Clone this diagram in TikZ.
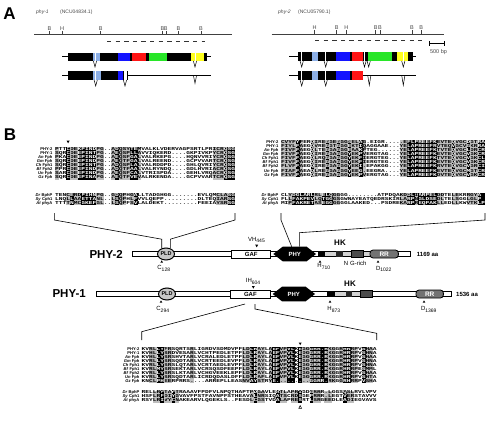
\documentclass[tikz,border=0pt]{standalone}
\usepackage{fontspec}
\setmainfont{Liberation Sans}
\newfontfamily\seqfont{Liberation Mono}
\usepackage{graphicx}
\usetikzlibrary{shapes.geometric,calc}
\definecolor{lblue}{RGB}{140,175,230}
\definecolor{exblue}{RGB}{20,20,255}
\definecolor{exred}{RGB}{255,20,20}
\definecolor{exgreen}{RGB}{40,230,40}
\definecolor{exyellow}{RGB}{255,255,30}
\definecolor{shgray}{RGB}{190,190,190}
\definecolor{txtgray}{RGB}{70,70,70}
\newcommand\setcw[1]{\gdef\cw{#1}\pgfmathsetmacro\tmpcw{#1/2.7}\global\let\cwscale\tmpcw}
\newcommand\seqtxt[1]{\scalebox{\cwscale}[1]{\seqfont\bfseries\fontsize{4.5}{4.5}\selectfont #1}}
\makeatletter
\newcommand\alnrows[6]{\def\rowi{0}\@for\s:=#5\do{\pgfmathtruncatemacro\rowi{\rowi+1}\node[seqn,text=#6] (#1\rowi) at (#2,{#3+(\rowi-1)*#4}) {\seqtxt{\s}};}}
\makeatother
\newcommand\alnlabels[5]{\foreach \l [count=\i] in {#5}{\node[alab] (#1\i) at (#2,{#3+(\i-1)*#4}) {\l};}}
\newcommand\colshade[5]{\foreach \a/\b in {#5}{\fill[#1] ({#2+\a*\cw},#3) rectangle ({#2+\b*\cw+\cw},#4);}}
\newcommand\tridown[2]{\fill ({#1-1.5},{#2-1.3}) -- ({#1+1.5},{#2-1.3}) -- (#1,{#2+1.3}) -- cycle;}
\newcommand\triup[2]{\fill ({#1-1.3},{#2+1.1}) -- ({#1+1.3},{#2+1.1}) -- (#1,{#2-1.1}) -- cycle;}
\newcommand\intronV[3]{\draw[line width=0.5pt] ({#1-1.6},#2) -- (#1,{#2+#3}) -- ({#1+1.6},#2);}
\def\TLup{PTTCDEKPINDPG..ADQSYTEMVALKLVDERVAGPSRTLPRICRQSG,SQRCDEEPINTPG..AEQSPLLAVVIQKERD....GKPIVKPYCRQSG,PKACDEEPINDPG..AEQSFGALVALRKEPG....HQNVVRIYCRQSG,SQRCDEEPINDPG..AEQTFGALVALREEND....GCPVVARTCRQSG,SQRCDEEPINTPG..ADQSPLALVALRDDPD....GHLQVRIYCRQSG,PPRCDEEPINDPG..ADQTFAALVALRYNDQ....GDLHVRIACRQSG,SARCDEEPINDPG..AEQSFCALVTRISPDA....GEHLVRQACRQSG,SQRCDEEPINAPG..AEQTFVEVALRKENDA....GCPVVARTCRQSG}
\def\TLlo{TENCERDPIHNPG..GDQPHGALLTADGHGG.......EVLQMCLASG,LNQLLAAETTANL..LSQPHLFVVLQEPP.........DLTEQIARSG,TTTTNMCGKEFGL..LSQPFSVLALDEKT.........FEEIAYSRSG}
\def\TRup{CVYFYFERQIREGGEGGGSELAG.EIGR.....EFLPREEFKEVTEQVGCDGTRA,FIYLFAEGQVREGGTGGGEKTIQAGGAAE...YELAPREEFRVTEQVGCVGKRRA,FIVFFAEGQLTEGGAGGGEAAKPTEG......YELAPREEFKTVTEQVGCLDRCR,FIVFFAEGQIREGGAGGGYEKPVERGTAG...YELAPREEFKEVTEQVGCVGKCR,FIVFFAEGQLRQGGAGGGYEKFIERGTEG...YELAPREEFKTVTEQVGCVGKCL,FIVFFAEGQIREGGAGGGYEKFIERGTEG...YELAPREEFKEVTEQVGCVGKCR,FLVFFAEGQIREGGAGGGYEKI.EPAKGG...YELAPREEFKRVTEQVGCVGRCI,FIAFFAEAQLREGGAGGGYEEG.EEGRA....YELAPREEFKEVTEQVGCMGTCR,FIVFFAEGQIREGGAGGGYEKPVERGTAG...YELAPREEFKDVTEQVGCVGKCR}
\def\TRlo{CLYDGLARLRLELQGGGG........ATPDQAKDDLIARPELDDTELEKRRGYA,FLLFAKPEVLQTGGGSGWNAYEATQEDRSKIRLARPNGLDSEDLTELSGGLGLP,MIPFAKRETASEGGGGGGLAAKED...PSDREKARPREQPAKLLEDLLKWVTKLP}
\def\BUp{KVRLLYFRSQRTSRLIGRDVSDMDVPFLDLRAYLAEFVPVLKEGGGRR.RKGGRHRRPVSHAA,KVHLLYSRDVESARLVCHTPEDLETPFLDLRAYLAEFVPVLKEDGGRR.RKGGRHRRPVSHNA,KVHLLYSRSHVTARLVCRALEDLETPFLDLRAYLAEFVPVLKEGGGRR.RKGGRHRRPVSHAA,KVRLLYSRSQDTARLVCRTEEDLEVPFLDLRAYLAEFVPVLKEGGGRR.RKGGRHRRPVSHNA,KVRLLYSRSLQTARLVCRTAEDLEVPFLDLRAYLAEFVPVLKEGGGRR.RKGGRHRRPVSHNA,KVRLMYSRSEKTARLVCRSQSDFEEPFLDLRAYLAEFVPVLKEGGGRR.RKGGRHRRPESMML,KVRLLYSRSLKTARLVCHGVEEKLEPFLDLRAYLAEFVPVLKEGGGRR.RKGGRHRRPVSHAA,KVRLLYSRSQDTARLICRDQDASLDFFLDLRAFLAEFVPVLKEGGGRR.RKGGRHRRPVSHTA,KNCLPHEERPRRS....ARREPLLEASNVAYSTRYE.........GGRR.RKGGRHRRPVSHA}
\def\BLo{RELLRPTAFTRAAAVFPDFVLNPQTHAPTPDGAVLEATLAPRIGDGRRR.LGGSQSLRVLVPV,HSFLRFDIYGVAVFPSTFAVNPFSTHEAVALNRSIQATSCRDSGEPRRR.LEGTVERSTAVVV,RSYLRIVYCNAKEARVLQGEKLS..FESDLCGSTVDALAPRESRTLSRGEEDLEADIEGVAVS}
\begin{document}
\begin{tikzpicture}[x=1pt,y=-1pt,
  seqn/.style={anchor=west,inner sep=0pt,outer sep=0pt},
  alab/.style={anchor=east,inner sep=0pt,font=\bfseries\fontsize{4.1}{4.1}\selectfont},
  maplab/.style={anchor=south,inner sep=0.3pt,text=txtgray,font=\fontsize{5.5}{5.5}\selectfont},
  mapline/.style={line width=0.9pt,draw=black!75},
  tick/.style={line width=0.5pt,draw=black!75},
  dashline/.style={line width=0.9pt,draw=black!80,dash pattern=on 4.3pt off 4.3pt},
  domlab/.style={font=\bfseries\fontsize{11.5}{11.5}\selectfont,anchor=east,inner sep=0pt},
  small/.style={font=\fontsize{6}{6}\selectfont,inner sep=0pt},
  bar/.style={draw,line width=0.8pt,fill=white},
  link/.style={line width=0.6pt}]
\useasboundingbox (0,0) rectangle (486,430);

% ---------------- Part A ----------------
\node[font=\bfseries\fontsize{17}{17}\selectfont,inner sep=0] (lblA) at (9.5,14) {A};
\node[font=\itshape\fontsize{5}{5}\selectfont,anchor=west,inner sep=0,text=txtgray] (n1) at (36,12) {phy-1};
\node[font=\fontsize{5}{5}\selectfont,anchor=west,inner sep=0,text=txtgray] (n1acc) at (60,12) {(NCU04834.1)};
\node[font=\itshape\fontsize{5}{5}\selectfont,anchor=west,inner sep=0,text=txtgray] (n2) at (278,12) {phy-2};
\node[font=\fontsize{5}{5}\selectfont,anchor=west,inner sep=0,text=txtgray] (n2acc) at (298,12) {(NCU05790.1)};

\draw[mapline] (34,34.5) -- (232,34.5);
\foreach \x/\t in {49.5/B,62/H,100.7/B,162.5/B,165.8/B,178.5/B,201/B}{
  \draw[tick] (\x,31) -- (\x,34.5);
  \node[maplab] at (\x,31) {\t};}
\draw[dashline] (107,41) -- (205,41);

\draw[mapline] (271.7,34) -- (444,34);
\foreach \x/\t in {314.7/H,336.7/B,346.3/H,375.7/B,379.9/B,412/B,421.3/B}{
  \draw[tick] (\x,30.5) -- (\x,34);
  \node[maplab] at (\x,30.5) {\t};}
\draw[dashline] (315,40) -- (422,40);
\draw[line width=0.8pt] (429.3,43.3) -- (444.3,43.3);
\draw[line width=0.6pt] (429.3,40.8) -- (429.3,45.8) (444.3,40.8) -- (444.3,45.8);
\node[font=\fontsize{5.5}{5.5}\selectfont,text=txtgray,inner sep=0] (bp) at (438.5,52.5) {500 bp};

% phy-1 gene model
\draw[line width=0.8pt] (62,56.8) -- (210.7,56.8);
\fill[black] (68,52.7) rectangle (207.3,61);
\fill[lblue] (92.7,52.7) rectangle (100,61);
\fill[exblue] (118.3,52.7) rectangle (130,61);
\fill[exred] (132,52.7) rectangle (145.7,61);
\fill[exgreen] (149,52.7) rectangle (166.7,61);
\fill[exyellow] (190.7,52.7) rectangle (204,61);
\draw[white,line width=0.5pt] (95,52.7) -- (95,61) (195,52.7) -- (195,61);
\intronV{95}{61}{6}
\intronV{195}{61}{6}
\draw[line width=0.8pt] (62,75.3) -- (68,75.3);
\draw[line width=0.6pt] (128.3,75.3) -- (210.7,75.3);
\fill[black] (68,70.7) rectangle (128.3,80);
\fill[lblue] (93,70.7) rectangle (101,80);
\fill[exblue] (118,70.7) rectangle (123,80);
\fill[white] (123.6,70.7) rectangle (126.6,80);
\draw[white,line width=0.5pt] (95.7,70.7) -- (95.7,80);
\intronV{95.7}{80}{6}
\intronV{125}{80}{6}
\intronV{195}{75.3}{8}

% phy-2 gene model
\draw[line width=0.8pt] (289.3,56.7) -- (416,56.7);
\fill[black] (298.3,52.3) rectangle (413.3,61);
\fill[lblue] (311.7,52.3) rectangle (317.7,61);
\fill[exblue] (336,52.3) rectangle (350,61);
\fill[exred] (352,52.3) rectangle (363.3,61);
\fill[exgreen] (367.7,52.3) rectangle (391.7,61);
\fill[exyellow] (397.3,52.3) rectangle (408.3,61);
\draw[white,line width=0.5pt] (301.7,52.3) -- (301.7,61) (325.7,52.3) -- (325.7,61) (364.5,52.3) -- (364.5,61) (403.3,52.3) -- (403.3,61);
\intronV{301.7}{61}{6}
\intronV{325.7}{61}{6}
\intronV{364.5}{61}{6}
\intronV{368.7}{61}{6}
\intronV{403.3}{61}{6}
\draw[line width=0.8pt] (289.3,75.3) -- (298.3,75.3);
\draw[line width=0.6pt] (363.3,75.3) -- (416,75.3);
\fill[black] (298.3,70.7) rectangle (363.3,80);
\fill[lblue] (311.7,70.7) rectangle (317.7,80);
\fill[exblue] (336,70.7) rectangle (350,80);
\fill[exred] (352,70.7) rectangle (363.3,80);
\draw[white,line width=0.5pt] (301.7,70.7) -- (301.7,80) (325.7,70.7) -- (325.7,80);
\intronV{301.7}{80}{6}
\intronV{325.7}{80}{6}
\intronV{369.3}{75.3}{10}
\intronV{403.3}{75.3}{10}

% ---------------- Part B ----------------
\node[font=\bfseries\fontsize{17}{17}\selectfont,inner sep=0] (lblB) at (10,135) {B};

% ---- top-left alignment ----
\setcw{3.75}
\colshade{shgray}{55}{146.95}{179.75}{0/0,4/5,11/12,15/15,17/19,22/22,42/44}
\colshade{black}{55}{146.95}{179.75}{3/3,6/10,16/16,20/21,45/47}
\colshade{shgray}{55}{193}{205}{3/3,5/6,11/12,15/15,17/18,20/20,43/45}
\colshade{black}{55}{193}{205}{4/4,7/10,16/16,21/21,46/47}
\alnlabels{tlL}{52.5}{149}{4.1}{PHY-2,PHY-1,\textit{An} Fph,\textit{Gm} Fph,\textit{Ch} Fph1,\textit{Bf} Fph2,\textit{Un} Fph,\textit{Gz} Fph}
\alnlabels{tlLo}{52.5}{195}{4}{\textit{Dr} BphP,\textit{Sy} Cph1,\textit{At} phyA}
\alnrows{tls}{55}{149}{4.1}{\TLup}{black}
\alnrows{tlt}{55}{195}{4}{\TLlo}{black}
\begin{scope}
\clip \foreach \a/\b in {3/3,6/10,16/16,20/21,45/47}{({55+\a*\cw},146.95) rectangle ({55+\b*\cw+\cw},179.75)}
      \foreach \a/\b in {4/4,7/10,16/16,21/21,46/47}{({55+\a*\cw},193) rectangle ({55+\b*\cw+\cw},205)};
\alnrows{tlsw}{55}{149}{4.1}{\TLup}{white}
\alnrows{tltw}{55}{195}{4}{\TLlo}{white}
\end{scope}
\tridown{68.1}{142}

% ---- top-right alignment ----
\setcw{3.71}
\colshade{shgray}{281}{140.25}{177.15}{0/3,5/5,9/9,11/11,13/14,16/17,19/20,22/22,32/33,42/45,47/49,51/52}
\colshade{black}{281}{140.25}{177.15}{4/4,8/8,12/12,15/15,18/18,21/21,34/41,46/46,50/50,53/54}
\colshade{shgray}{281}{193}{205}{2/2,9/10,14/15,32/33,36/36,42/43,46/47,50/52}
\colshade{black}{281}{193}{205}{3/8,11/13,34/35,37/41,53/54}
\alnlabels{trL}{278.5}{142.3}{4.1}{PHY-2,PHY-1,\textit{An} Fph,\textit{Gm} Fph,\textit{Ch} Fph1,\textit{Bf} Fph1,\textit{Bf} Fph2,\textit{Un} Fph,\textit{Gz} Fph}
\alnlabels{trLo}{278.5}{195}{4}{\textit{Dr} BphP,\textit{Sy} Cph1,\textit{At} phyA}
\alnrows{trs}{281}{142.3}{4.1}{\TRup}{black}
\alnrows{trt}{281}{195}{4}{\TRlo}{black}
\begin{scope}
\clip \foreach \a/\b in {4/4,8/8,12/12,15/15,18/18,21/21,34/41,46/46,50/50,53/54}{({281+\a*\cw},140.25) rectangle ({281+\b*\cw+\cw},177.15)}
      \foreach \a/\b in {3/8,11/13,34/35,37/41,53/54}{({281+\a*\cw},193) rectangle ({281+\b*\cw+\cw},205)};
\alnrows{trsw}{281}{142.3}{4.1}{\TRup}{white}
\alnrows{trtw}{281}{195}{4}{\TRlo}{white}
\end{scope}

% ---- bottom alignment ----
\setcw{3.73}
\colshade{shgray}{141.7}{347.3}{383.3}{2/3,6/7,13/13,27/28,31/32,34/34,37/38,43/44,50/51,53/53,56/57,60/61}
\colshade{black}{141.7}{347.3}{383.3}{4/5,29/30,35/36,39/40,42/42,45/49,54/55,59/59}
\colshade{shgray}{141.7}{390.7}{402.7}{3/4,6/7,9/9,29/29,31/32,37/38,40/41,46/47,49/50,55/56}
\colshade{black}{141.7}{390.7}{402.7}{5/5,8/8,30/30,36/36,42/42,45/45,54/54}
\alnlabels{bL}{139.5}{349.3}{4}{PHY-2,PHY-1,\textit{An} Fph,\textit{Gm} Fph,\textit{Ch} Fph1,\textit{Bf} Fph1,\textit{Bf} Fph2,\textit{Un} Fph,\textit{Gz} Fph}
\alnlabels{bLo}{139.5}{392.7}{4}{\textit{Dr} BphP,\textit{Sy} Cph1,\textit{At} phyA}
\alnrows{bs}{141.7}{349.3}{4}{\BUp}{black}
\alnrows{bt}{141.7}{392.7}{4}{\BLo}{black}
\begin{scope}
\clip \foreach \a/\b in {4/5,29/30,35/36,39/40,42/42,45/49,54/55,59/59}{({141.7+\a*\cw},347.3) rectangle ({141.7+\b*\cw+\cw},383.3)}
      \foreach \a/\b in {5/5,8/8,30/30,36/36,42/42,45/45,54/54}{({141.7+\a*\cw},390.7) rectangle ({141.7+\b*\cw+\cw},402.7)};
\alnrows{bsw}{141.7}{349.3}{4}{\BUp}{white}
\alnrows{btw}{141.7}{392.7}{4}{\BLo}{white}
\end{scope}
\tridown{300.2}{343.8}
\draw[line width=0.5pt] (298.8,408.3) -- (301.6,408.3) -- (300.2,405.6) -- cycle;

% ---------------- domain diagrams ----------------
\node[domlab] (p2lab) at (123,254) {PHY-2};
\draw[bar] (132.7,251.3) rectangle (410,256.7);
\fill[shgray!70] (324,251.3) rectangle (370,256.7);
\draw[line width=0.8pt] (324,251.3) rectangle (370,256.7);
\node[ellipse,draw,line width=1pt,fill=gray!45,minimum width=17pt,minimum height=12pt,inner sep=0,font=\bfseries\fontsize{5.5}{5.5}\selectfont] (pld2) at (166,254) {PLD};
\node[draw,line width=1pt,fill=white,minimum width=39pt,minimum height=8pt,inner sep=0,font=\bfseries\fontsize{6}{6}\selectfont] (gaf2) at (251.2,254) {GAF};
\fill (273.3,254) -- (282.7,246.7) -- (306.7,246.7) -- (316,254) -- (306.7,261.3) -- (282.7,261.3) -- cycle;
\node[text=white,font=\bfseries\fontsize{6}{6}\selectfont,inner sep=0] (phy2) at (294.7,254) {PHY};
\fill[black] (318,250.7) rectangle (324,257.3);
\fill[black!85] (336,250.7) rectangle (342.7,257.3);
\draw[line width=0.6pt,fill=black!70] (351.7,250.7) rectangle (363.3,257.3);
\node[draw,line width=0.8pt,rounded corners=3pt,fill=black!55,text=white,minimum width=28.3pt,minimum height=8pt,inner sep=0,font=\bfseries\fontsize{6.5}{6.5}\selectfont] (rr2) at (384.2,254) {RR};
\node[font=\bfseries\fontsize{6}{6}\selectfont,anchor=west,inner sep=0] (len2) at (416.7,254) {1169 aa};
\node[small] (vh) at (256.7,240) {VH\textsubscript{445}};
\tridown{256.7}{246}
\node[font=\bfseries\fontsize{8}{8}\selectfont,inner sep=0] (hk2) at (340,242.5) {HK};
\triup{161.7}{261.5}
\node[small] (c128) at (164,268.5) {C\textsubscript{128}};
\triup{320}{261.5}
\node[small] (h710) at (324,266.5) {H\textsubscript{710}};
\node[small] (nlab) at (346,263.5) {N};
\node[small] (grich) at (358.3,263.5) {G-rich};
\triup{378}{261.5}
\node[small] (d1022) at (384,269) {D\textsubscript{1022}};

\node[domlab] (p1lab) at (86,294) {PHY-1};
\draw[bar] (96,291.3) rectangle (451.7,296.7);
\fill[shgray!70] (334,291.3) rectangle (360,296.7);
\draw[line width=0.8pt] (334,291.3) rectangle (360,296.7);
\node[ellipse,draw,line width=1pt,fill=gray!45,minimum width=17pt,minimum height=12pt,inner sep=0,font=\bfseries\fontsize{5.5}{5.5}\selectfont] (pld1) at (167,294) {PLD};
\node[draw,line width=1pt,fill=white,minimum width=40.7pt,minimum height=8pt,inner sep=0,font=\bfseries\fontsize{6}{6}\selectfont] (gaf1) at (250.4,294) {GAF};
\fill (272.7,294) -- (282,286.7) -- (305.7,286.7) -- (315,294) -- (305.7,301.3) -- (282,301.3) -- cycle;
\node[text=white,font=\bfseries\fontsize{6}{6}\selectfont,inner sep=0] (phy1) at (293.8,294) {PHY};
\fill[black] (327.3,290.7) rectangle (334,297.3);
\fill[black!85] (346,290.7) rectangle (351.7,297.3);
\draw[line width=0.6pt,fill=black!70] (360,290.7) rectangle (372.7,297.3);
\node[draw,line width=0.8pt,rounded corners=3pt,fill=black!55,text=white,minimum width=27.3pt,minimum height=8pt,inner sep=0,font=\bfseries\fontsize{6.5}{6.5}\selectfont] (rr1) at (429.7,294) {RR};
\node[font=\bfseries\fontsize{6}{6}\selectfont,anchor=west,inner sep=0] (len1) at (456,294) {1536 aa};
\node[small] (ih) at (253.3,281.5) {IH\textsubscript{604}};
\tridown{253.3}{287.3}
\node[font=\bfseries\fontsize{8}{8}\selectfont,inner sep=0] (hk1) at (350,284) {HK};
\triup{161}{301.5}
\node[small] (c294) at (163,309.5) {C\textsubscript{294}};
\triup{330}{301.5}
\node[small] (h873) at (334,309.5) {H\textsubscript{873}};
\triup{424}{301.5}
\node[small] (d1369) at (429,309.5) {D\textsubscript{1369}};

% ---------------- zoom connectors ----------------
\coordinate (tlA) at (54.3,213); \coordinate (tlAb) at (54.3,220);
\coordinate (tlB) at (235,213); \coordinate (tlBb) at (235,220);
\coordinate (pldL) at (161.7,248.2); \coordinate (pldR) at (170.3,248.2);
\draw[link] (tlA) -- (tlAb) -- ($(pldL)+(0,-9)$) -- (pldL);
\draw[link] (tlB) -- (tlBb) -- ($(pldR)+(0,-9)$) -- (pldR);
\coordinate (trA) at (281,213); \coordinate (trAb) at (281,220);
\coordinate (trB) at (485,213); \coordinate (trBb) at (485,220);
\coordinate (hexL) at (291.7,246.7); \coordinate (hexR) at (299.3,246.7);
\draw[link] (trA) -- (trAb) -- (hexL);
\draw[link] (trB) -- (trBb) -- ($(hexR)+(0,-14)$) -- (hexR);
\coordinate (gL) at (245,304); \coordinate (gR) at (255,304);
\coordinate (bA) at (141.7,331.7); \coordinate (bAb) at (141.7,340);
\coordinate (bB) at (376.7,333.3); \coordinate (bBb) at (376.7,340);
\draw[link] (gL) -- (bA) -- (bAb);
\draw[link] (gR) -- ($(gR)+(0,5)$) -- (bB) -- (bBb);
\end{tikzpicture}
\end{document}
